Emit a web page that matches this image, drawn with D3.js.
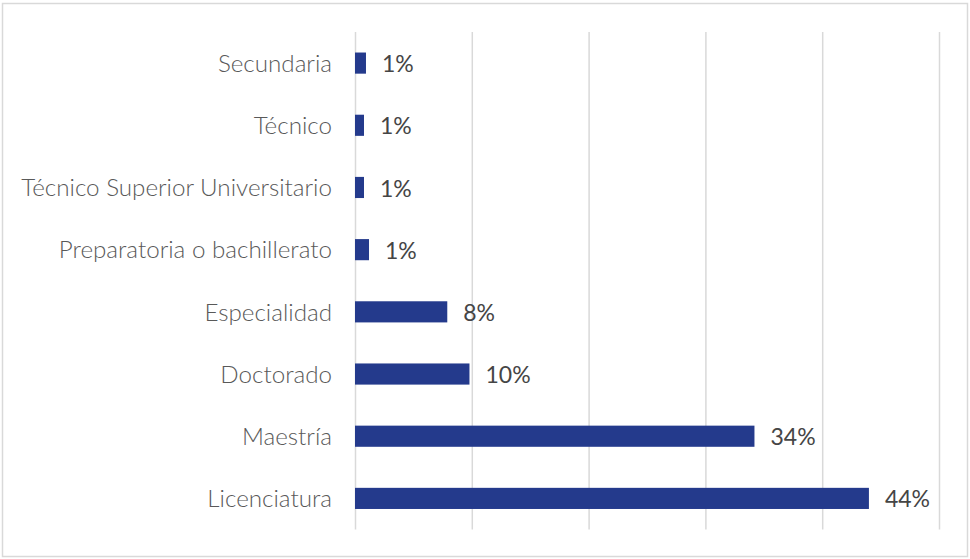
<!DOCTYPE html>
<html>
<head>
<meta charset="utf-8">
<script src="https://cdn.jsdelivr.net/npm/d3@7"></script>
<style>
  html, body { margin: 0; padding: 0; background: #fff; }
  svg { display: block; }
</style>
</head>
<body>
<svg id="chart" width="970" height="559"></svg>
<script>
// Nivel de estudios: share of respondents per education level
const categories = [
  "Secundaria",
  "Técnico",
  "Técnico Superior Universitario",
  "Preparatoria o bachillerato",
  "Especialidad",
  "Doctorado",
  "Maestría",
  "Licenciatura"
];
const values = [0.0094, 0.0077, 0.0077, 0.012, 0.079, 0.098, 0.342, 0.44];
const xTicks = [0, 0.1, 0.2, 0.3, 0.4, 0.5];

const svg = d3.select("#chart");
const W = 970, H = 559;

// outer frame
svg.append("rect")
  .attr("x", 2.5).attr("y", 3.5)
  .attr("width", W - 5).attr("height", H - 6)
  .attr("fill", "#fff")
  .attr("stroke", "#d9d9d9")
  .attr("stroke-width", 1.5);

const plot = { left: 355, right: 939, top: 32, bottom: 529.5 };

const x = d3.scaleLinear().domain([0, 0.5]).range([plot.left, plot.right]);
const y = d3.scaleBand()
  .domain(categories)
  .range([plot.top, plot.bottom])
  .paddingInner(0.66)
  .paddingOuter(0.33);

// vertical gridlines
const grid = d3.axisBottom(x)
  .tickValues(xTicks)
  .tickSize(-(plot.bottom - plot.top))
  .tickFormat("");
svg.append("g")
  .attr("transform", `translate(0,${plot.bottom})`)
  .call(grid)
  .call(g => g.select(".domain").remove())
  .call(g => g.selectAll(".tick line")
    .attr("stroke", "#d9d9d9")
    .attr("stroke-width", 1.5));

// category axis
const yAxis = d3.axisLeft(y).tickSize(0).tickPadding(23);
svg.append("g")
  .attr("transform", `translate(${plot.left},1)`)
  .call(yAxis)
  .call(g => g.select(".domain").remove())
  .call(g => g.selectAll(".tick text")
    .attr("fill", "#595959")
    .style("font-family", "Lato, 'Open Sans', sans-serif")
    .style("font-weight", 300)
    .style("font-size", "24.2px"));

// bars
svg.append("g").selectAll("rect")
  .data(values)
  .join("rect")
  .attr("x", x(0))
  .attr("y", (d, i) => y(categories[i]))
  .attr("width", d => x(d) - x(0))
  .attr("height", y.bandwidth())
  .attr("fill", "#243a8c");

// value labels
const fmt = d3.format(".0%");
svg.append("g").selectAll("text")
  .data(values)
  .join("text")
  .attr("x", d => x(d) + 16)
  .attr("y", (d, i) => y(categories[i]) + y.bandwidth() / 2 + 1)
  .attr("dy", "0.35em")
  .attr("fill", "#454545")
  .style("font-family", "Lato, 'Open Sans', sans-serif")
  .style("font-size", "23px")
  .text(d => fmt(d));
</script>
</body>
</html>
